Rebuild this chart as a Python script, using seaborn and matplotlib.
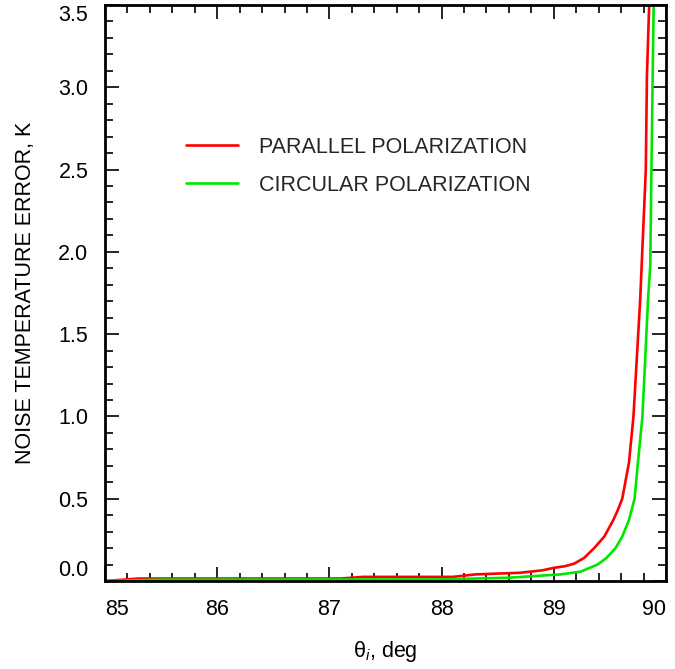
import numpy as np
import pandas as pd
import matplotlib
matplotlib.use("Agg")
import matplotlib.pyplot as plt
from matplotlib.ticker import MultipleLocator
import seaborn as sns

# --- data ---
theta_par = [85.0, 85.3, 87.1, 87.3, 88.1, 88.3, 88.7, 88.9, 89.0, 89.1,
             89.18, 89.27, 89.36, 89.45, 89.53, 89.57, 89.61, 89.67, 89.71,
             89.77, 89.82, 89.83, 89.85, 89.855]
err_par = [0.0, 0.015, 0.015, 0.025, 0.025, 0.04, 0.05, 0.065, 0.08, 0.09,
           0.105, 0.14, 0.2, 0.27, 0.37, 0.43, 0.5, 0.72, 1.0,
           1.71, 2.5, 3.07, 3.5, 3.6]

theta_circ = [85.0, 85.5, 88.0, 88.6, 89.06, 89.24, 89.39, 89.47, 89.55,
              89.61, 89.67, 89.72, 89.75, 89.79, 89.84, 89.86, 89.87, 89.88,
              89.89, 89.893]
err_circ = [0.0, 0.008, 0.01, 0.02, 0.04, 0.057, 0.1, 0.14, 0.2,
            0.27, 0.37, 0.5, 0.72, 1.0, 1.71, 1.92, 2.48, 3.0,
            3.5, 3.6]

labels = ["PARALLEL POLARIZATION", "CIRCULAR POLARIZATION"]
colors = ["#ff0000", "#00e600"]
xticks = [85, 86, 87, 88, 89, 90]
yticks = [0.0, 0.5, 1.0, 1.5, 2.0, 2.5, 3.0, 3.5]

df = pd.concat([
    pd.DataFrame({"theta": theta_par, "err": err_par, "pol": labels[0]}),
    pd.DataFrame({"theta": theta_circ, "err": err_circ, "pol": labels[1]}),
])

sns.set_theme(style="ticks")
plt.rcParams["font.family"] = ["Liberation Sans", "DejaVu Sans"]
plt.rcParams["mathtext.fontset"] = "custom"
plt.rcParams["mathtext.it"] = "Liberation Sans:italic"
plt.rcParams["mathtext.rm"] = "Liberation Sans"
FS = 15.5

fig = plt.figure(figsize=(6.75, 6.69), dpi=100)
ax = fig.add_axes([105 / 675, 1 - 581 / 669, 561 / 675, 576 / 669])

sns.lineplot(data=df, x="theta", y="err", hue="pol", palette=colors,
             linewidth=1.9, ax=ax, sort=False, estimator=None)

ax.set_xlim(85, 90)
ax.set_ylim(0, 3.5)
ax.set_xticks(xticks, labels=[str(t) for t in xticks])
ax.set_yticks(yticks, labels=[f"{t:.1f}" for t in yticks])
ax.xaxis.set_minor_locator(MultipleLocator(0.2))
ax.yaxis.set_minor_locator(MultipleLocator(0.1))
ax.tick_params(which="both", direction="in", top=True, right=True,
               width=1.2, color="black", labelsize=FS, labelcolor="black")
ax.tick_params(which="major", length=10, pad=13)
ax.tick_params(which="minor", length=6)
ax.tick_params(axis="y", which="major", pad=12)
for s in ax.spines.values():
    s.set_linewidth(2)
    s.set_color("black")

ax.set_xlabel("θ$_{i}$, deg", fontsize=FS, color="black", labelpad=14)
ax.set_ylabel("NOISE TEMPERATURE ERROR, K", fontsize=FS, color="black",
              labelpad=16)

leg = ax.legend(loc="upper left", bbox_to_anchor=(0.11, 0.805), frameon=False,
                fontsize=FS, handlelength=2.4, handletextpad=1.0,
                labelspacing=0.8, title=None)
for line in leg.get_lines():
    line.set_linewidth(1.9)

# end labels pulled inside like the reference
xt = ax.get_xticklabels()
plt.setp(xt[0], ha="left")
plt.setp(xt[-1], ha="right")
yt = ax.get_yticklabels()
plt.setp(yt[0], va="bottom")
plt.setp(yt[-1], va="top")

fig.savefig("out.png", dpi=100)
